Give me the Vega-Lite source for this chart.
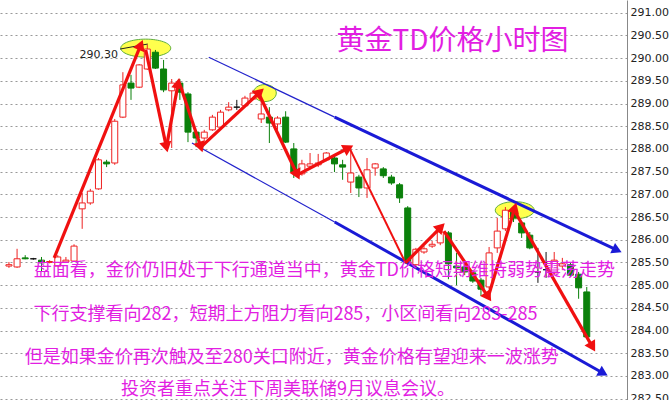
{
  "$schema": "https://vega.github.io/schema/vega-lite/v6.json",
  "width": 627,
  "height": 400,
  "autosize": "none",
  "padding": {"left": 0, "top": 0, "right": 43, "bottom": 0},
  "background": "white",
  "config": {
    "view": {"stroke": null},
    "axisY": {"orient": "right", "title": null, "labelFont": "DejaVu Sans", "labelFontSize": 11, "labelColor": "#222",
      "labelPadding": 3, "ticks": false, "domain": true, "domainColor": "#888", "domainWidth": 1,
      "grid": true, "gridDash": [2, 3], "gridColor": "#999", "gridWidth": 1, "labelOverlap": false, "labelFlush": false, "labelBound": false,
      "tickCount": 30, "format": ".2f"}
  },
  "datasets": {
    "candles": [
      {"i":0,"o":285.42,"h":285.51,"l":285.38,"c":285.45},
      {"i":1,"o":285.40,"h":285.80,"l":285.38,"c":285.58},
      {"i":2,"o":285.60,"h":285.66,"l":285.57,"c":285.58},
      {"i":3,"o":285.58,"h":285.60,"l":285.56,"c":285.58},
      {"i":4,"o":285.55,"h":285.62,"l":285.29,"c":285.49},
      {"i":5,"o":285.50,"h":285.55,"l":285.48,"c":285.52},
      {"i":6,"o":285.42,"h":285.66,"l":285.40,"c":285.62},
      {"i":7,"o":285.51,"h":285.62,"l":285.49,"c":285.55},
      {"i":8,"o":285.53,"h":285.90,"l":285.51,"c":285.86},
      {"i":9,"o":286.68,"h":287.03,"l":286.24,"c":286.81},
      {"i":10,"o":286.81,"h":287.12,"l":286.77,"c":287.07},
      {"i":11,"o":287.12,"h":287.80,"l":287.10,"c":287.76},
      {"i":12,"o":287.71,"h":287.76,"l":287.60,"c":287.67},
      {"i":13,"o":287.69,"h":288.66,"l":287.65,"c":288.61},
      {"i":14,"o":288.70,"h":289.69,"l":288.68,"c":289.41},
      {"i":15,"o":289.45,"h":289.63,"l":289.08,"c":289.34},
      {"i":16,"o":289.36,"h":289.87,"l":289.34,"c":289.85},
      {"i":17,"o":289.76,"h":290.30,"l":289.74,"c":290.20},
      {"i":18,"o":290.13,"h":290.18,"l":289.76,"c":289.78},
      {"i":19,"o":289.76,"h":289.96,"l":289.25,"c":289.30},
      {"i":20,"o":289.28,"h":289.54,"l":288.02,"c":289.45},
      {"i":21,"o":289.45,"h":289.54,"l":289.08,"c":289.25},
      {"i":22,"o":289.21,"h":289.25,"l":288.15,"c":288.37},
      {"i":23,"o":288.37,"h":288.42,"l":288.04,"c":288.24},
      {"i":24,"o":288.24,"h":288.42,"l":288.20,"c":288.37},
      {"i":25,"o":288.42,"h":288.75,"l":288.40,"c":288.70},
      {"i":26,"o":288.48,"h":288.86,"l":288.46,"c":288.81},
      {"i":27,"o":288.86,"h":289.03,"l":288.83,"c":288.92},
      {"i":28,"o":288.92,"h":289.08,"l":288.86,"c":288.92},
      {"i":29,"o":288.95,"h":289.17,"l":288.92,"c":289.12},
      {"i":30,"o":289.10,"h":289.30,"l":289.08,"c":289.23},
      {"i":31,"o":288.66,"h":289.08,"l":288.57,"c":288.77},
      {"i":32,"o":288.70,"h":288.92,"l":288.13,"c":288.57},
      {"i":33,"o":288.55,"h":288.72,"l":288.42,"c":288.68},
      {"i":34,"o":288.70,"h":288.83,"l":288.13,"c":288.15},
      {"i":35,"o":288.00,"h":288.13,"l":287.36,"c":287.49},
      {"i":36,"o":287.45,"h":287.76,"l":287.41,"c":287.67},
      {"i":37,"o":287.62,"h":287.91,"l":287.58,"c":287.67},
      {"i":38,"o":287.65,"h":287.89,"l":287.60,"c":287.69},
      {"i":39,"o":287.76,"h":287.93,"l":287.73,"c":287.91},
      {"i":40,"o":287.80,"h":287.84,"l":287.49,"c":287.67},
      {"i":41,"o":287.65,"h":287.76,"l":287.32,"c":287.60},
      {"i":42,"o":287.27,"h":288.02,"l":287.03,"c":287.47},
      {"i":43,"o":287.38,"h":287.43,"l":286.94,"c":287.14},
      {"i":44,"o":287.14,"h":287.80,"l":286.92,"c":287.54},
      {"i":45,"o":287.58,"h":287.69,"l":287.41,"c":287.67},
      {"i":46,"o":287.56,"h":287.60,"l":287.36,"c":287.41},
      {"i":47,"o":287.38,"h":287.43,"l":287.21,"c":287.25},
      {"i":48,"o":287.21,"h":287.25,"l":286.81,"c":286.92},
      {"i":49,"o":286.70,"h":286.74,"l":285.45,"c":285.49},
      {"i":50,"o":285.45,"h":285.82,"l":285.38,"c":285.79},
      {"i":51,"o":285.73,"h":285.86,"l":285.69,"c":285.80},
      {"i":52,"o":285.86,"h":285.97,"l":285.82,"c":285.90},
      {"i":53,"o":285.93,"h":286.21,"l":285.88,"c":286.17},
      {"i":54,"o":286.15,"h":286.19,"l":285.13,"c":285.47},
      {"i":55,"o":285.42,"h":285.71,"l":285.00,"c":285.38},
      {"i":56,"o":285.40,"h":285.51,"l":285.22,"c":285.29},
      {"i":57,"o":285.27,"h":285.33,"l":285.05,"c":285.09},
      {"i":58,"o":285.11,"h":285.16,"l":284.76,"c":284.91},
      {"i":59,"o":284.96,"h":285.84,"l":284.91,"c":285.71},
      {"i":60,"o":285.82,"h":286.48,"l":285.71,"c":286.19},
      {"i":61,"o":286.24,"h":286.72,"l":286.19,"c":286.65},
      {"i":62,"o":286.65,"h":286.72,"l":286.39,"c":286.48},
      {"i":63,"o":286.37,"h":286.41,"l":286.04,"c":286.15},
      {"i":64,"o":286.10,"h":286.17,"l":285.79,"c":285.82},
      {"i":65,"o":285.29,"h":285.82,"l":285.05,"c":285.29},
      {"i":66,"o":285.34,"h":285.73,"l":285.16,"c":285.34},
      {"i":67,"o":285.27,"h":285.73,"l":285.24,"c":285.55},
      {"i":68,"o":285.42,"h":285.60,"l":285.33,"c":285.47},
      {"i":69,"o":285.45,"h":285.49,"l":285.18,"c":285.22},
      {"i":70,"o":285.24,"h":285.29,"l":284.70,"c":284.94},
      {"i":71,"o":284.85,"h":284.96,"l":283.84,"c":283.86}
    ],
    "segs": [
      {"kind":"blue1","i":24.55,"p":290.02,"i2":40.02,"p2":288.70,"head":false},
      {"kind":"blue1","i":22.49,"p":288.13,"i2":40.02,"p2":286.39,"head":false},
      {"kind":"blue2","i":40.02,"p":288.70,"i2":74.73,"p2":285.77,"head":true},
      {"kind":"blue2","i":40.02,"p":286.39,"i2":73.03,"p2":283.06,"head":true},
      {"kind":"black1","i":13.66,"p":290.20,"i2":17.05,"p2":290.31,"head":false},
      {"kind":"red3","i":5.56,"p":285.60,"i2":16.20,"p2":290.29,"head":true},
      {"kind":"red3","i":16.81,"p":290.18,"i2":19.35,"p2":288.04,"head":true},
      {"kind":"red3","i":19.35,"p":288.04,"i2":20.80,"p2":289.45,"head":true},
      {"kind":"red3","i":21.16,"p":289.34,"i2":23.58,"p2":288.04,"head":true},
      {"kind":"red3","i":23.58,"p":288.04,"i2":30.83,"p2":289.25,"head":true},
      {"kind":"red3","i":30.83,"p":289.17,"i2":35.43,"p2":287.43,"head":true},
      {"kind":"red3","i":35.43,"p":287.43,"i2":41.72,"p2":288.02,"head":true},
      {"kind":"red2","i":41.96,"p":287.98,"i2":48.73,"p2":285.49,"head":false},
      {"kind":"red3","i":48.73,"p":285.49,"i2":53.08,"p2":286.28,"head":true},
      {"kind":"red3","i":53.45,"p":286.19,"i2":58.89,"p2":284.74,"head":true},
      {"kind":"red3","i":58.89,"p":284.74,"i2":62.15,"p2":286.70,"head":true},
      {"kind":"red3","i":62.27,"p":286.59,"i2":71.70,"p2":283.64,"head":true}
    ],
    "ellipses": [
      {"name":"e1","i":16.81,"p":290.22},
      {"name":"e2","i":31.44,"p":289.23},
      {"name":"e3","i":62.15,"p":286.65}
    ],
    "texts": [
      {"kind":"title","i":54.5,"p":290.355,"text":"黄金TD价格小时图"},
      {"kind":"body","i":38.76,"p":285.31,"text":"盘面看，金价仍旧处于下行通道当中，黄金TD价格短期维持弱势震荡走势"},
      {"kind":"body","i":33.98,"p":284.34,"text":"下行支撑看向282，短期上方阻力看向285，小区间看向283-285"},
      {"kind":"body","i":34.76,"p":283.395,"text":"但是如果金价再次触及至280关口附近，黄金价格有望迎来一波涨势"},
      {"kind":"body","i":34.28,"p":282.69,"text":"投资者重点关注下周美联储9月议息会议。"},
      {"kind":"label","i":13.4,"p":290.07,"text":"290.30"}
    ]
  },
  "layer": [
    {
      "data": {"name": "ellipses"},
      "mark": {"type": "point", "filled": true, "fill": "#ffff4d", "stroke": "#5fae3a", "strokeWidth": 1, "opacity": 1, "fillOpacity": 1},
      "encoding": {
        "x": {"field": "i", "type": "quantitative", "scale": {"domain": [-0.484, 75.33], "nice": false, "zero": false}, "axis": null},
        "y": {"field": "p", "type": "quantitative", "title": null, "scale": {"domain": [282.47, 291.28], "nice": false, "zero": false},
          "axis": {"values": [282.5,283,283.5,284,284.5,285,285.5,286,286.5,287,287.5,288,288.5,289,289.5,290,290.5,291], "tickCount": 30, "format": ".2f", "labelOverlap": false}},
        "shape": {"condition": [
          {"test": "datum.name == 'e1'", "value": "M-1,0A1,0.36 0 1,1 1,0A1,0.36 0 1,1 -1,0Z"},
          {"test": "datum.name == 'e2'", "value": "M-1,0A1,0.74 0 1,1 1,0A1,0.74 0 1,1 -1,0Z"}],
          "value": "M-1,0A1,0.44 0 1,1 1,0A1,0.44 0 1,1 -1,0Z"},
        "size": {"condition": [
          {"test": "datum.name == 'e1'", "value": 2500},
          {"test": "datum.name == 'e2'", "value": 529}],
          "value": 1521}
      }
    },
    {
      "data": {"name": "candles"},
      "mark": {"type": "rule", "strokeWidth": 1},
      "encoding": {
        "x": {"field": "i", "type": "quantitative", "axis": null},
        "y": {"field": "l", "type": "quantitative", "title": null},
        "y2": {"field": "h"},
        "color": {"condition": [{"test": "datum.c > datum.o", "value": "#ee2222"}, {"test": "datum.c < datum.o", "value": "#0b800b"}], "value": "#111111"}
      }
    },
    {
      "data": {"name": "candles"},
      "mark": {"type": "bar", "width": 6, "strokeWidth": 1},
      "encoding": {
        "x": {"field": "i", "type": "quantitative", "axis": null},
        "y": {"field": "o", "type": "quantitative", "title": null},
        "y2": {"field": "c"},
        "fill": {"condition": [{"test": "datum.c > datum.o", "value": "#ffffff"}, {"test": "datum.c < datum.o", "value": "#0b800b"}], "value": "#111111"},
        "stroke": {"condition": [{"test": "datum.c > datum.o", "value": "#ee2222"}, {"test": "datum.c < datum.o", "value": "#0b800b"}], "value": "#111111"}
      }
    },
    {
      "data": {"name": "segs"},
      "transform": [{"filter": "datum.kind == 'blue1'"}],
      "mark": {"type": "rule", "strokeWidth": 1.2, "color": "#2222cc"},
      "encoding": {
        "x": {"field": "i", "type": "quantitative", "axis": null},
        "y": {"field": "p", "type": "quantitative", "title": null},
        "x2": {"field": "i2"},
        "y2": {"field": "p2"}
      }
    },
    {
      "data": {"name": "segs"},
      "transform": [{"filter": "datum.kind == 'blue2'"}],
      "mark": {"type": "rule", "strokeWidth": 3, "color": "#1a1ad6"},
      "encoding": {
        "x": {"field": "i", "type": "quantitative", "axis": null},
        "y": {"field": "p", "type": "quantitative", "title": null},
        "x2": {"field": "i2"},
        "y2": {"field": "p2"}
      }
    },
    {
      "data": {"name": "segs"},
      "transform": [{"filter": "datum.kind == 'black1'"}],
      "mark": {"type": "rule", "strokeWidth": 1, "color": "#222222"},
      "encoding": {
        "x": {"field": "i", "type": "quantitative", "axis": null},
        "y": {"field": "p", "type": "quantitative", "title": null},
        "x2": {"field": "i2"},
        "y2": {"field": "p2"}
      }
    },
    {
      "data": {"name": "segs"},
      "transform": [{"filter": "datum.kind == 'red3'"}],
      "mark": {"type": "rule", "strokeWidth": 3.2, "color": "#f01010"},
      "encoding": {
        "x": {"field": "i", "type": "quantitative", "axis": null},
        "y": {"field": "p", "type": "quantitative", "title": null},
        "x2": {"field": "i2"},
        "y2": {"field": "p2"}
      }
    },
    {
      "data": {"name": "segs"},
      "transform": [{"filter": "datum.kind == 'red2'"}],
      "mark": {"type": "rule", "strokeWidth": 2, "color": "#f01010"},
      "encoding": {
        "x": {"field": "i", "type": "quantitative", "axis": null},
        "y": {"field": "p", "type": "quantitative", "title": null},
        "x2": {"field": "i2"},
        "y2": {"field": "p2"}
      }
    },
    {
      "data": {"name": "segs"},
      "transform": [
        {"filter": "datum.head"},
        {"calculate": "atan2(-(datum.p2 - datum.p) * 45.4, (datum.i2 - datum.i) * 8.27) * 180 / PI", "as": "ang"}
      ],
      "mark": {"type": "point", "shape": "triangle-right", "filled": true, "opacity": 1},
      "encoding": {
        "x": {"field": "i2", "type": "quantitative", "axis": null},
        "y": {"field": "p2", "type": "quantitative", "title": null},
        "angle": {"field": "ang", "type": "quantitative", "scale": null},
        "color": {"condition": {"test": "datum.kind == 'blue2'", "value": "#1a1ad6"}, "value": "#f01010"},
        "size": {"condition": {"test": "datum.kind == 'blue2'", "value": 130}, "value": 150}
      }
    },
    {
      "data": {"name": "texts"},
      "transform": [{"filter": "datum.kind == 'title'"}],
      "mark": {"type": "text", "font": "Noto Sans CJK SC", "fontSize": 28, "color": "#e21ee2", "align": "center", "baseline": "middle"},
      "encoding": {
        "x": {"field": "i", "type": "quantitative", "axis": null},
        "y": {"field": "p", "type": "quantitative", "title": null},
        "text": {"field": "text"}
      }
    },
    {
      "data": {"name": "texts"},
      "transform": [{"filter": "datum.kind == 'body'"}],
      "mark": {"type": "text", "font": "Noto Sans CJK SC", "fontSize": 18, "color": "#e21ee2", "align": "center", "baseline": "middle"},
      "encoding": {
        "x": {"field": "i", "type": "quantitative", "axis": null},
        "y": {"field": "p", "type": "quantitative", "title": null},
        "text": {"field": "text"}
      }
    },
    {
      "data": {"name": "texts"},
      "transform": [{"filter": "datum.kind == 'label'"}],
      "mark": {"type": "text", "font": "DejaVu Sans", "fontSize": 11, "color": "#222222", "align": "right", "baseline": "middle"},
      "encoding": {
        "x": {"field": "i", "type": "quantitative", "axis": null},
        "y": {"field": "p", "type": "quantitative", "title": null},
        "text": {"field": "text"}
      }
    }
  ]
}
